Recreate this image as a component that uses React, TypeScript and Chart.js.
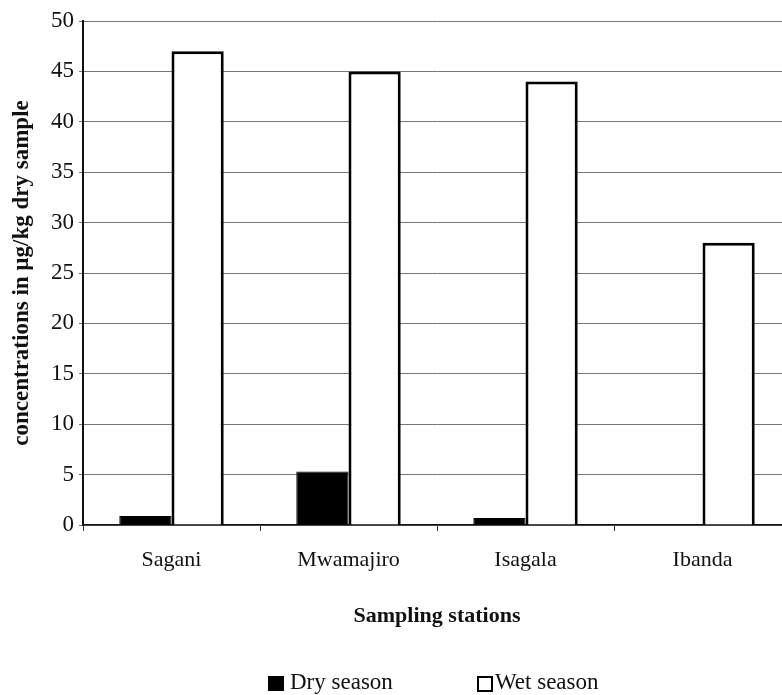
import React, { useEffect, useRef } from "react";
import { Chart, registerables } from "chart.js";

Chart.register(...registerables);

const categories = ["Sagani", "Mwamajiro", "Isagala", "Ibanda"];
const drySeason = [0.9, 5.3, 0.7, 0];
const wetSeason = [47, 45, 44, 28];
const yTicks = { min: 0, max: 50, step: 5 };

const SERIF = "'Liberation Serif', 'DejaVu Serif', serif";

export default function App() {
  const ref = useRef<HTMLCanvasElement | null>(null);

  useEffect(() => {
    if (!ref.current) return;
    const chart = new Chart(ref.current, {
      type: "bar",
      data: {
        labels: categories,
        datasets: [
          {
            label: "Dry season",
            data: drySeason,
            backgroundColor: "#000000",
            borderColor: "#000000",
            borderWidth: 1,
            categoryPercentage: 0.59,
            barPercentage: 1,
          },
          {
            label: "Wet season",
            data: wetSeason,
            backgroundColor: "#ffffff",
            borderColor: "#000000",
            borderWidth: 3,
            categoryPercentage: 0.59,
            barPercentage: 1,
          },
        ],
      },
      options: {
        responsive: false,
        animation: false,
        layout: { padding: { top: 21, right: 9, bottom: 61, left: 0 } },
        plugins: {
          legend: { display: false },
          tooltip: { enabled: false },
        },
        scales: {
          x: {
            afterFit: (scale: any) => {
              scale.height = 109;
            },
            grid: {
              display: true,
              drawOnChartArea: false,
              drawTicks: true,
              tickLength: 6,
              color: "#333",
              offset: true,
            },
            border: { display: true, color: "#111", width: 1.5 },
            ticks: {
              color: "#111",
              padding: 16,
              font: { family: SERIF, size: 22 },
              maxRotation: 0,
            },
            title: {
              display: true,
              text: "Sampling stations",
              color: "#111",
              font: { family: SERIF, size: 22, weight: "bold" },
              padding: { top: 30, bottom: 4 },
            },
          },
          y: {
            min: yTicks.min,
            max: yTicks.max,
            afterFit: (scale: any) => {
              scale.width = 83;
            },
            grid: {
              color: "#777777",
              lineWidth: 1,
              tickLength: 4,
            },
            border: { display: true, color: "#111", width: 2 },
            ticks: {
              stepSize: yTicks.step,
              color: "#111",
              padding: 5,
              font: { family: SERIF, size: 23 },
            },
            title: {
              display: true,
              text: "concentrations in µg/kg dry sample",
              color: "#111",
              font: { family: SERIF, size: 23, weight: "bold" },
              padding: { top: 8, bottom: 0 },
            },
          },
        },
      },
    });
    return () => chart.destroy();
  }, []);

  const legendText: React.CSSProperties = {
    fontFamily: SERIF,
    fontSize: 23,
    color: "#111",
    position: "absolute",
    top: 669,
    lineHeight: "25px",
    whiteSpace: "nowrap",
  };

  return (
    <div
      style={{
        position: "fixed",
        left: 0,
        top: 0,
        width: 782,
        height: 695,
        overflow: "hidden",
        background: "#fff",
      }}
    >
      <canvas ref={ref} width={800} height={695} style={{ display: "block" }} />
      <div style={{ position: "absolute", left: 268, top: 676, width: 16, height: 15, background: "#000" }} />
      <div style={{ ...legendText, left: 290 }}>Dry season</div>
      <div
        style={{
          position: "absolute",
          left: 477,
          top: 676,
          width: 12,
          height: 12,
          border: "2px solid #000",
          background: "#fff",
        }}
      />
      <div style={{ ...legendText, left: 495 }}>Wet season</div>
    </div>
  );
}
